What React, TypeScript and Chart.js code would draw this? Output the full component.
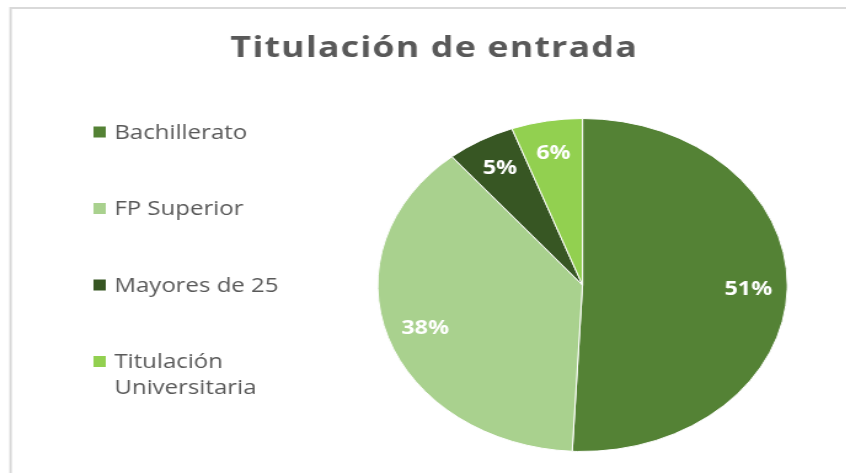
import React, { useEffect, useRef } from 'react';
import { Chart, registerables } from 'chart.js';

Chart.register(...registerables);

const chartTitle = 'Titulación de entrada';
const categories = ['Bachillerato', 'FP Superior', 'Mayores de 25', 'Titulación Universitaria'];
const values = [50.8, 38.2, 5.4, 5.6];
const colors = ['#548235', '#A9D18E', '#375623', '#92D050'];

const SX = 1.23;
const W = 688;
const H = 473;
const FONT = '"Open Sans", "Noto Sans", sans-serif';

const framePlugin = {
  id: 'frame',
  beforeDraw(chart: any) {
    const ctx = chart.ctx;
    ctx.save();
    ctx.fillStyle = '#ffffff';
    ctx.fillRect(0, 0, chart.width, chart.height);
    ctx.strokeStyle = '#d9d9d9';
    ctx.lineWidth = 2;
    ctx.strokeRect(8.6, 8, 3000, 3000);
    ctx.restore();
  },
};

const titlePlugin = {
  id: 'customTitle',
  afterDraw(chart: any) {
    const ctx = chart.ctx;
    ctx.save();
    ctx.font = `bold 29px ${FONT}`;
    (ctx as any).letterSpacing = '1px';
    ctx.fillStyle = '#595959';
    ctx.textAlign = 'center';
    ctx.textBaseline = 'alphabetic';
    ctx.fillText(chartTitle, 353, 57);
    ctx.restore();
  },
};

function wrap(ctx: CanvasRenderingContext2D, text: string, maxW: number): string[] {
  const words = text.split(' ');
  const lines: string[] = [];
  let cur = '';
  for (const w of words) {
    const t = cur ? cur + ' ' + w : w;
    if (ctx.measureText(t).width > maxW && cur) {
      lines.push(cur);
      cur = w;
    } else {
      cur = t;
    }
  }
  if (cur) lines.push(cur);
  return lines;
}

const legendPlugin = {
  id: 'customLegend',
  afterDraw(chart: any) {
    const ctx = chart.ctx;
    const labels = chart.data.labels as string[];
    const bg = chart.data.datasets[0].backgroundColor as string[];
    ctx.save();
    ctx.font = `19.5px ${FONT}`;
    ctx.textBaseline = 'middle';
    ctx.textAlign = 'left';
    const y0 = 132;
    const step = 76.5;
    const lineH = 26;
    labels.forEach((lab, i) => {
      const y = y0 + i * step;
      ctx.fillStyle = bg[i];
      ctx.fillRect(76, y - 5.5, 10, 11);
      ctx.fillStyle = '#595959';
      const lines = wrap(ctx, lab, 150);
      lines.forEach((ln, j) => {
        ctx.fillText(ln, 93, y + j * lineH + 1);
      });
    });
    ctx.restore();
  },
};

const dataLabelPlugin = {
  id: 'sliceLabels',
  afterDatasetsDraw(chart: any) {
    const ctx = chart.ctx;
    const meta = chart.getDatasetMeta(0);
    const data = chart.data.datasets[0].data as number[];
    const total = data.reduce((a, b) => a + b, 0);
    ctx.save();
    ctx.font = `bold 19px ${FONT}`;
    ctx.fillStyle = '#ffffff';
    ctx.textAlign = 'center';
    ctx.textBaseline = 'middle';
    meta.data.forEach((arc: any, i: number) => {
      const p = arc.getProps(['x', 'y', 'startAngle', 'endAngle', 'outerRadius'], true);
      const mid = (p.startAngle + p.endAngle) / 2;
      const r = p.outerRadius * 0.81;
      const txt = Math.round((data[i] / total) * 100) + '%';
      ctx.fillText(txt, p.x + Math.cos(mid) * r, p.y + Math.sin(mid) * r + 1);
    });
    ctx.restore();
  },
};

export default function App() {
  const ref = useRef<HTMLCanvasElement | null>(null);

  useEffect(() => {
    document.body.style.margin = '0';
    if (!ref.current) return;
    const chart = new Chart(ref.current, {
      type: 'pie',
      data: {
        labels: categories,
        datasets: [
          {
            data: values,
            backgroundColor: colors,
            borderColor: '#ffffff',
            borderWidth: 1,
          },
        ],
      },
      options: {
        responsive: false,
        animation: false,
        events: [],
        layout: {
          padding: { left: 306.6, right: W - 640.6, top: 118, bottom: H - 452 },
        },
        plugins: {
          legend: { display: false },
          title: { display: false },
          tooltip: { enabled: false },
        },
      },
      plugins: [framePlugin, dataLabelPlugin, titlePlugin, legendPlugin],
    });
    return () => chart.destroy();
  }, []);

  return (
    <div style={{ position: 'absolute', left: 0, top: 0, width: 846, height: 473, overflow: 'hidden', background: '#fff' }}>
      <div style={{ width: W, height: H, transform: `scaleX(${SX})`, transformOrigin: '0 0' }}>
        <canvas ref={ref} width={W} height={H} style={{ width: W, height: H, display: 'block' }} />
      </div>
    </div>
  );
}
